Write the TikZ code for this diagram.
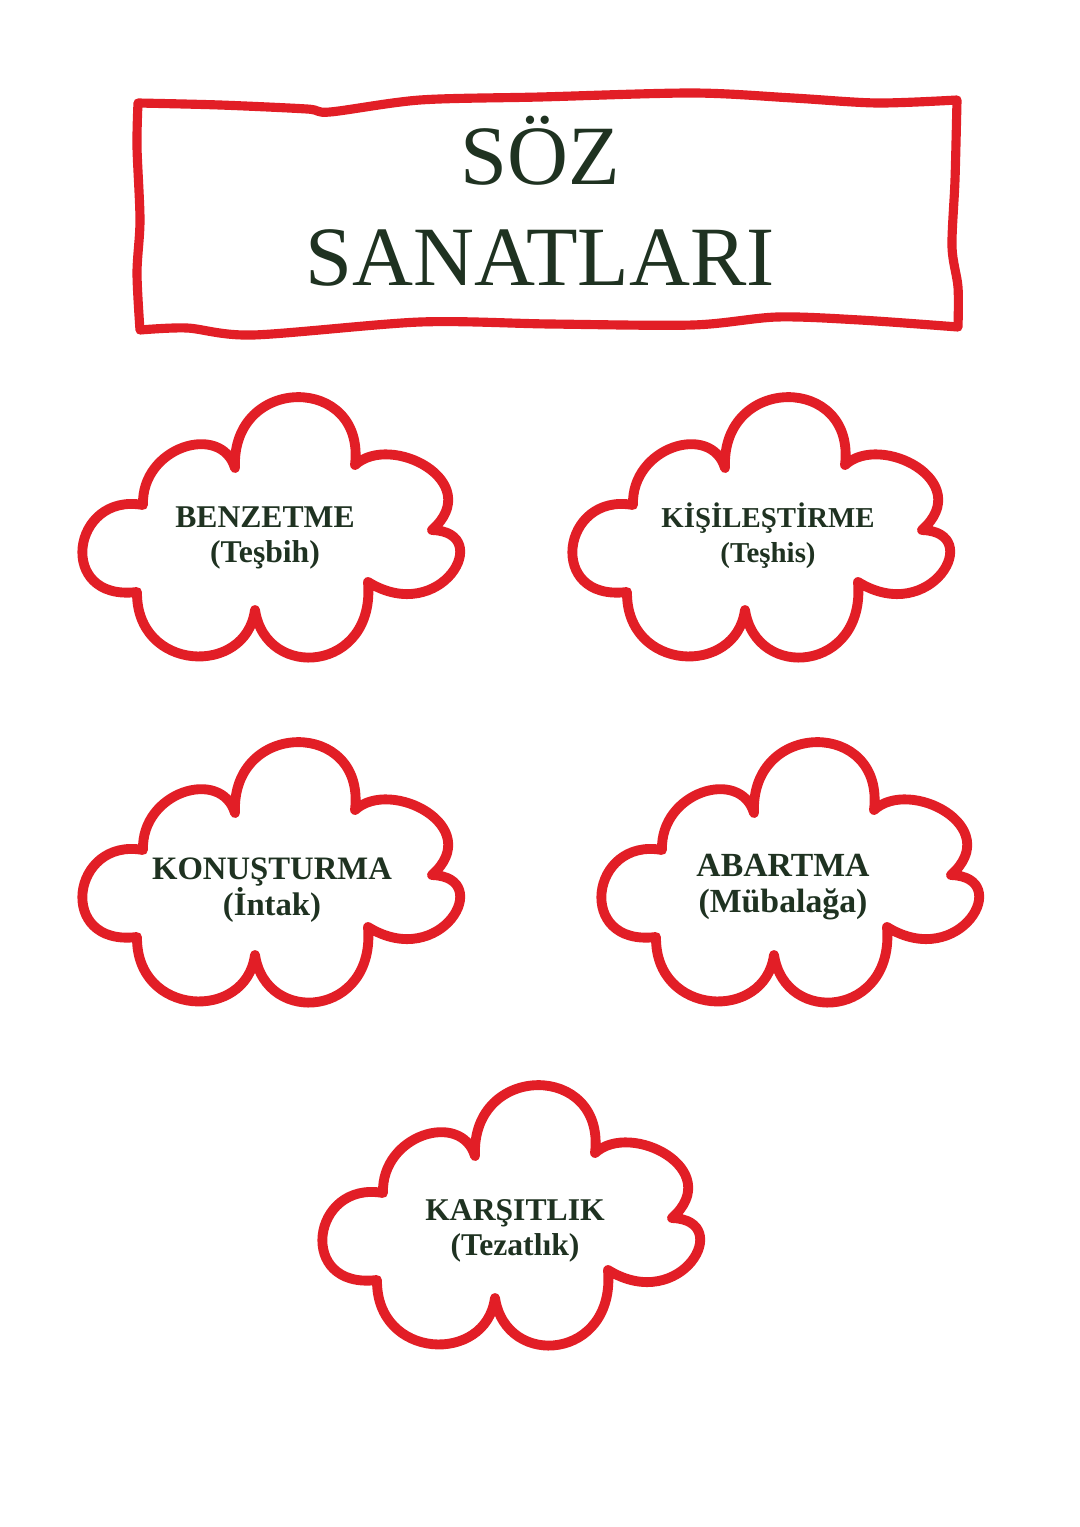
\documentclass[tikz,border=0pt]{standalone}
\usepackage{fontspec}
\setmainfont{Liberation Serif}
\usetikzlibrary{calc}
\definecolor{kirmizi}{RGB}{226,30,38}
\definecolor{yesil}{RGB}{31,50,33}
\tikzset{
  bulut/.pic={
    \draw[kirmizi, line width=2.8pt, line join=round, line cap=round]
      (-36,-59) .. controls (-40,-153) and (95,-153) .. (84,-62)
      .. controls (120,-95) and (215,-45) .. (161,3)
      .. controls (225,5) and (170,100) .. (97,55)
      .. controls (105,145) and (-5,155) .. (-16,83)
      .. controls (-25,150) and (-135,145) .. (-134,65)
      .. controls (-215,75) and (-200,-35) .. (-128,-22)
      .. controls (-130,-80) and (-50,-105) .. (-36,-59) -- cycle;
  },
  baslik/.style={text=yesil, align=center, font=\fontsize{24}{28.7}\selectfont},
  sanat/.style={text=yesil, align=center, font=\fontsize{9}{10}\selectfont\bfseries},
}

\begin{document}
\begin{tikzpicture}[x=0.01cm, y=-0.01cm]
\fill[white] (0,0) rectangle (1080,1527);
\useasboundingbox (0,0) rectangle (1080,1527);
\draw[kirmizi, line width=2.6pt, line join=round, line cap=round]
  plot[smooth] coordinates {(138,103) (220,105) (307,109) (330,112) (420,100) (540,97) (693,93) (793,98) (877,103) (957,100)}
  -- plot[smooth] coordinates {(957,100) (955,180) (952,247) (958,287) (958,327)}
  -- plot[smooth] coordinates {(958,327) (860,320) (777,317) (693,325) (550,324) (420,322) (253,335) (187,328) (140,330)}
  -- plot[smooth] coordinates {(140,330) (137,273) (140,220) (137,147) (138,103)} -- cycle;
\node[baslik] (baslik) at (540,201) {SÖZ\\SANATLARI};
\pic at (271,527) {bulut};
\pic at (761,527) {bulut};
\pic at (271,872) {bulut};
\pic at (790,872) {bulut};
\pic at (511,1215) {bulut};
\node[sanat] (benzetme) at (265,538) {BENZETME\\(Teşbih)};
\node[sanat, font=\fontsize{8.2}{10}\selectfont\bfseries] (kisilestirme) at (768,536) {KİŞİLEŞTİRME\\(Teşhis)};
\node[sanat, font=\fontsize{9.3}{10.2}\selectfont\bfseries] (konusturma) at (272,890) {KONUŞTURMA\\(İntak)};
\node[sanat, font=\fontsize{9.6}{10.3}\selectfont\bfseries] (abartma) at (783,887) {ABARTMA\\(Mübalağa)};
\node[sanat] (karsitlik) at (515,1231) {KARŞITLIK\\(Tezatlık)};
\end{tikzpicture}
\end{document}
